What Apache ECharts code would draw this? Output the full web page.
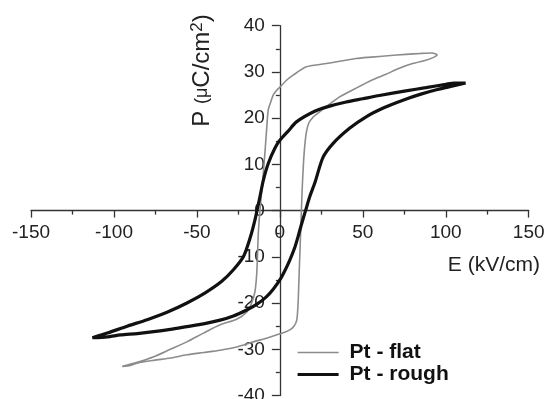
<!DOCTYPE html>
<html>
<head>
<meta charset="utf-8">
<script src="https://cdn.jsdelivr.net/npm/echarts@6/dist/echarts.min.js"></script>
<style>
html,body{margin:0;padding:0;background:#fff;}
#c{width:547px;height:399px;}
</style>
</head>
<body>
<div id="c"></div>
<script>
// ---- data ----
var seriesNames = ['Pt - flat', 'Pt - rough'];
var xTicks = [-150, -100, -50, 0, 50, 100, 150];
var yTicks = [-40, -30, -20, -10, 0, 10, 20, 30, 40];

// Pt - flat : upper branch (from +tip leftwards) then lower branch (from -tip rightwards)
var flatE = [95, 92, 85, 76, 65, 55, 46, 36, 26, 16, 8, 4, 0, -2, -4, -5.5, -7, -8, -9, -10, -11, -12, -13, -13.5, -14, -15, -17, -20, -26, -36, -46, -56, -66, -76, -86, -95,
             -90, -86, -76, -66, -56, -46, -36, -26, -16, -8, -2, 3, 6, 8.5, 10.2, 11, 11.5, 12, 12.5, 13, 13.5, 14.2, 15, 16, 17.5, 20, 22, 28, 36, 46, 56, 64, 72, 80, 88.5, 93, 95];
var flatP = [33.7, 34.1, 34.0, 33.8, 33.5, 33.2, 32.9, 32.3, 31.7, 31.1, 29.3, 28.2, 26.7, 26.0, 25.0, 23.5, 21.8, 17.4, 12.5, 8.0, 4.0, 0, -5, -10, -14, -17.5, -20, -22, -23.5, -24.7, -26.5, -28.4, -30.0, -31.6, -32.8, -33.7,
             -33.5, -33.0, -32.4, -31.9, -31.2, -30.7, -30.2, -29.5, -28.4, -27.6, -26.9, -26.3, -25.8, -25.0, -23.7, -20, -15, -10, -5, 0, 5, 10, 14, 17, 19, 20.2, 20.8, 22.5, 24.6, 26.5, 28.3, 29.5, 30.8, 31.8, 32.6, 33.2, 33.7];

// Pt - rough
var roughE = [112, 105, 100, 88, 76, 60, 50, 40, 30, 21, 10, 5, 0, -3, -7, -10, -12, -15, -18, -22, -28, -35, -45, -56, -68, -80, -92, -104, -113,
              -104, -96, -86, -76, -66, -56, -46, -36, -28, -20, -14, -8, -4, 0, 3, 6, 9, 11, 13, 15.5, 18, 21, 26, 32, 42, 52, 63, 75, 85, 95, 105, 112];
var roughP = [27.6, 27.6, 27.3, 26.6, 25.9, 24.9, 24.2, 23.5, 22.6, 21.5, 19.2, 17.2, 15.2, 13.5, 10.2, 6.5, 3.0, -2.0, -6.0, -10.0, -12.8, -15.3, -17.8, -20.0, -22.0, -23.6, -25.0, -26.5, -27.5,
              -27.3, -26.9, -26.6, -26.2, -25.7, -25.1, -24.5, -23.7, -22.8, -21.5, -20.3, -18.6, -17.0, -15.0, -13.0, -10.7, -8.0, -5.6, -3.0, 0, 3.0, 5.9, 11.5, 14.5, 17.8, 20.3, 22.3, 24.0, 25.2, 26.2, 27.0, 27.6];

function pairs(xs, ys) { return xs.map(function (x, i) { return [x, ys[i]]; }); }

var FONT = '"Liberation Sans", Arial, sans-serif';
var chart = echarts.init(document.getElementById('c'), null, {renderer: 'canvas'});
var axisColor = '#333';
var xMin = xTicks[0], xMax = xTicks[xTicks.length - 1];
var yMin = yTicks[0], yMax = yTicks[yTicks.length - 1];
chart.setOption({
  animation: false,
  backgroundColor: '#fff',
  grid: {left: 31, right: 18.3, top: 25.7, bottom: 3.5, containLabel: false, outerBoundsMode: 'none'},
  xAxis: {
    type: 'value', min: xMin, max: xMax, interval: 50,
    axisLine: {onZero: false, lineStyle: {color: axisColor, width: 1.3}},
    axisTick: {show: true, length: 7, lineStyle: {color: axisColor, width: 1.3}},
    minorTick: {show: true, splitNumber: 2, length: 4, lineStyle: {color: axisColor, width: 1.3}},
    splitLine: {show: false},
    axisLabel: {fontSize: 19, color: '#222', fontFamily: FONT, margin: 13}
  },
  yAxis: {
    type: 'value', min: yMin, max: yMax, interval: 10,
    axisLine: {onZero: false, lineStyle: {color: axisColor, width: 1.3}},
    axisTick: {show: true, length: 8, lineStyle: {color: axisColor, width: 1.3}},
    minorTick: {show: true, splitNumber: 2, length: 4, lineStyle: {color: axisColor, width: 1.3}},
    splitLine: {show: false},
    axisLabel: {fontSize: 19, color: '#222', fontFamily: FONT, margin: 15}
  },
  legend: {
    orient: 'vertical', left: 291, top: 337,
    itemWidth: 41, itemHeight: 14, itemGap: 1,
    itemStyle: {opacity: 0},
    textStyle: {fontSize: 21, fontWeight: 'bold', color: '#111', fontFamily: FONT, padding: [0, 0, 0, 6]},
    data: [{name: seriesNames[0], lineStyle: {width: 1.6}}, {name: seriesNames[1], lineStyle: {width: 3.2}}]
  },
  series: [
    {name: seriesNames[0], type: 'line', data: pairs(flatE, flatP), symbol: 'none', smooth: 0.25,
     lineStyle: {color: '#8c8c8c', width: 1.6}, itemStyle: {color: '#8c8c8c'}},
    {name: seriesNames[1], type: 'line', data: pairs(roughE, roughP), symbol: 'none', smooth: 0.25,
     lineStyle: {color: '#111', width: 3.2}, itemStyle: {color: '#111'}}
  ],
  graphic: [
    {type: 'text', x: 202, y: 70.5, rotation: Math.PI / 2,
     style: {text: '{a|P }{b|(μ}{a|C/cm}{s|2}{a|)}', align: 'center', verticalAlign: 'middle',
       rich: {
         a: {fontSize: 24, fontFamily: FONT, fill: '#222', color: '#222'},
         b: {fontSize: 18, fontFamily: FONT, fill: '#222', color: '#222'},
         s: {fontSize: 17, fontFamily: FONT, fill: '#222', color: '#222', verticalAlign: 'top', padding: [0, 0, 9, 0]}
       }}},
    {type: 'text', x: 540, y: 265,
     style: {text: 'E (kV/cm)', fontSize: 21, fontFamily: FONT, fill: '#222', align: 'right', verticalAlign: 'middle'}}
  ]
});
// move both axes (with their labels) to the data origin, found through the library's own scales
var origin = chart.convertToPixel({gridIndex: 0}, [0, 0]);
var corner = chart.convertToPixel({gridIndex: 0}, [xMin, yMin]);
chart.setOption({
  xAxis: {offset: origin[1] - corner[1]},
  yAxis: {offset: corner[0] - origin[0]}
});
</script>
</body>
</html>
